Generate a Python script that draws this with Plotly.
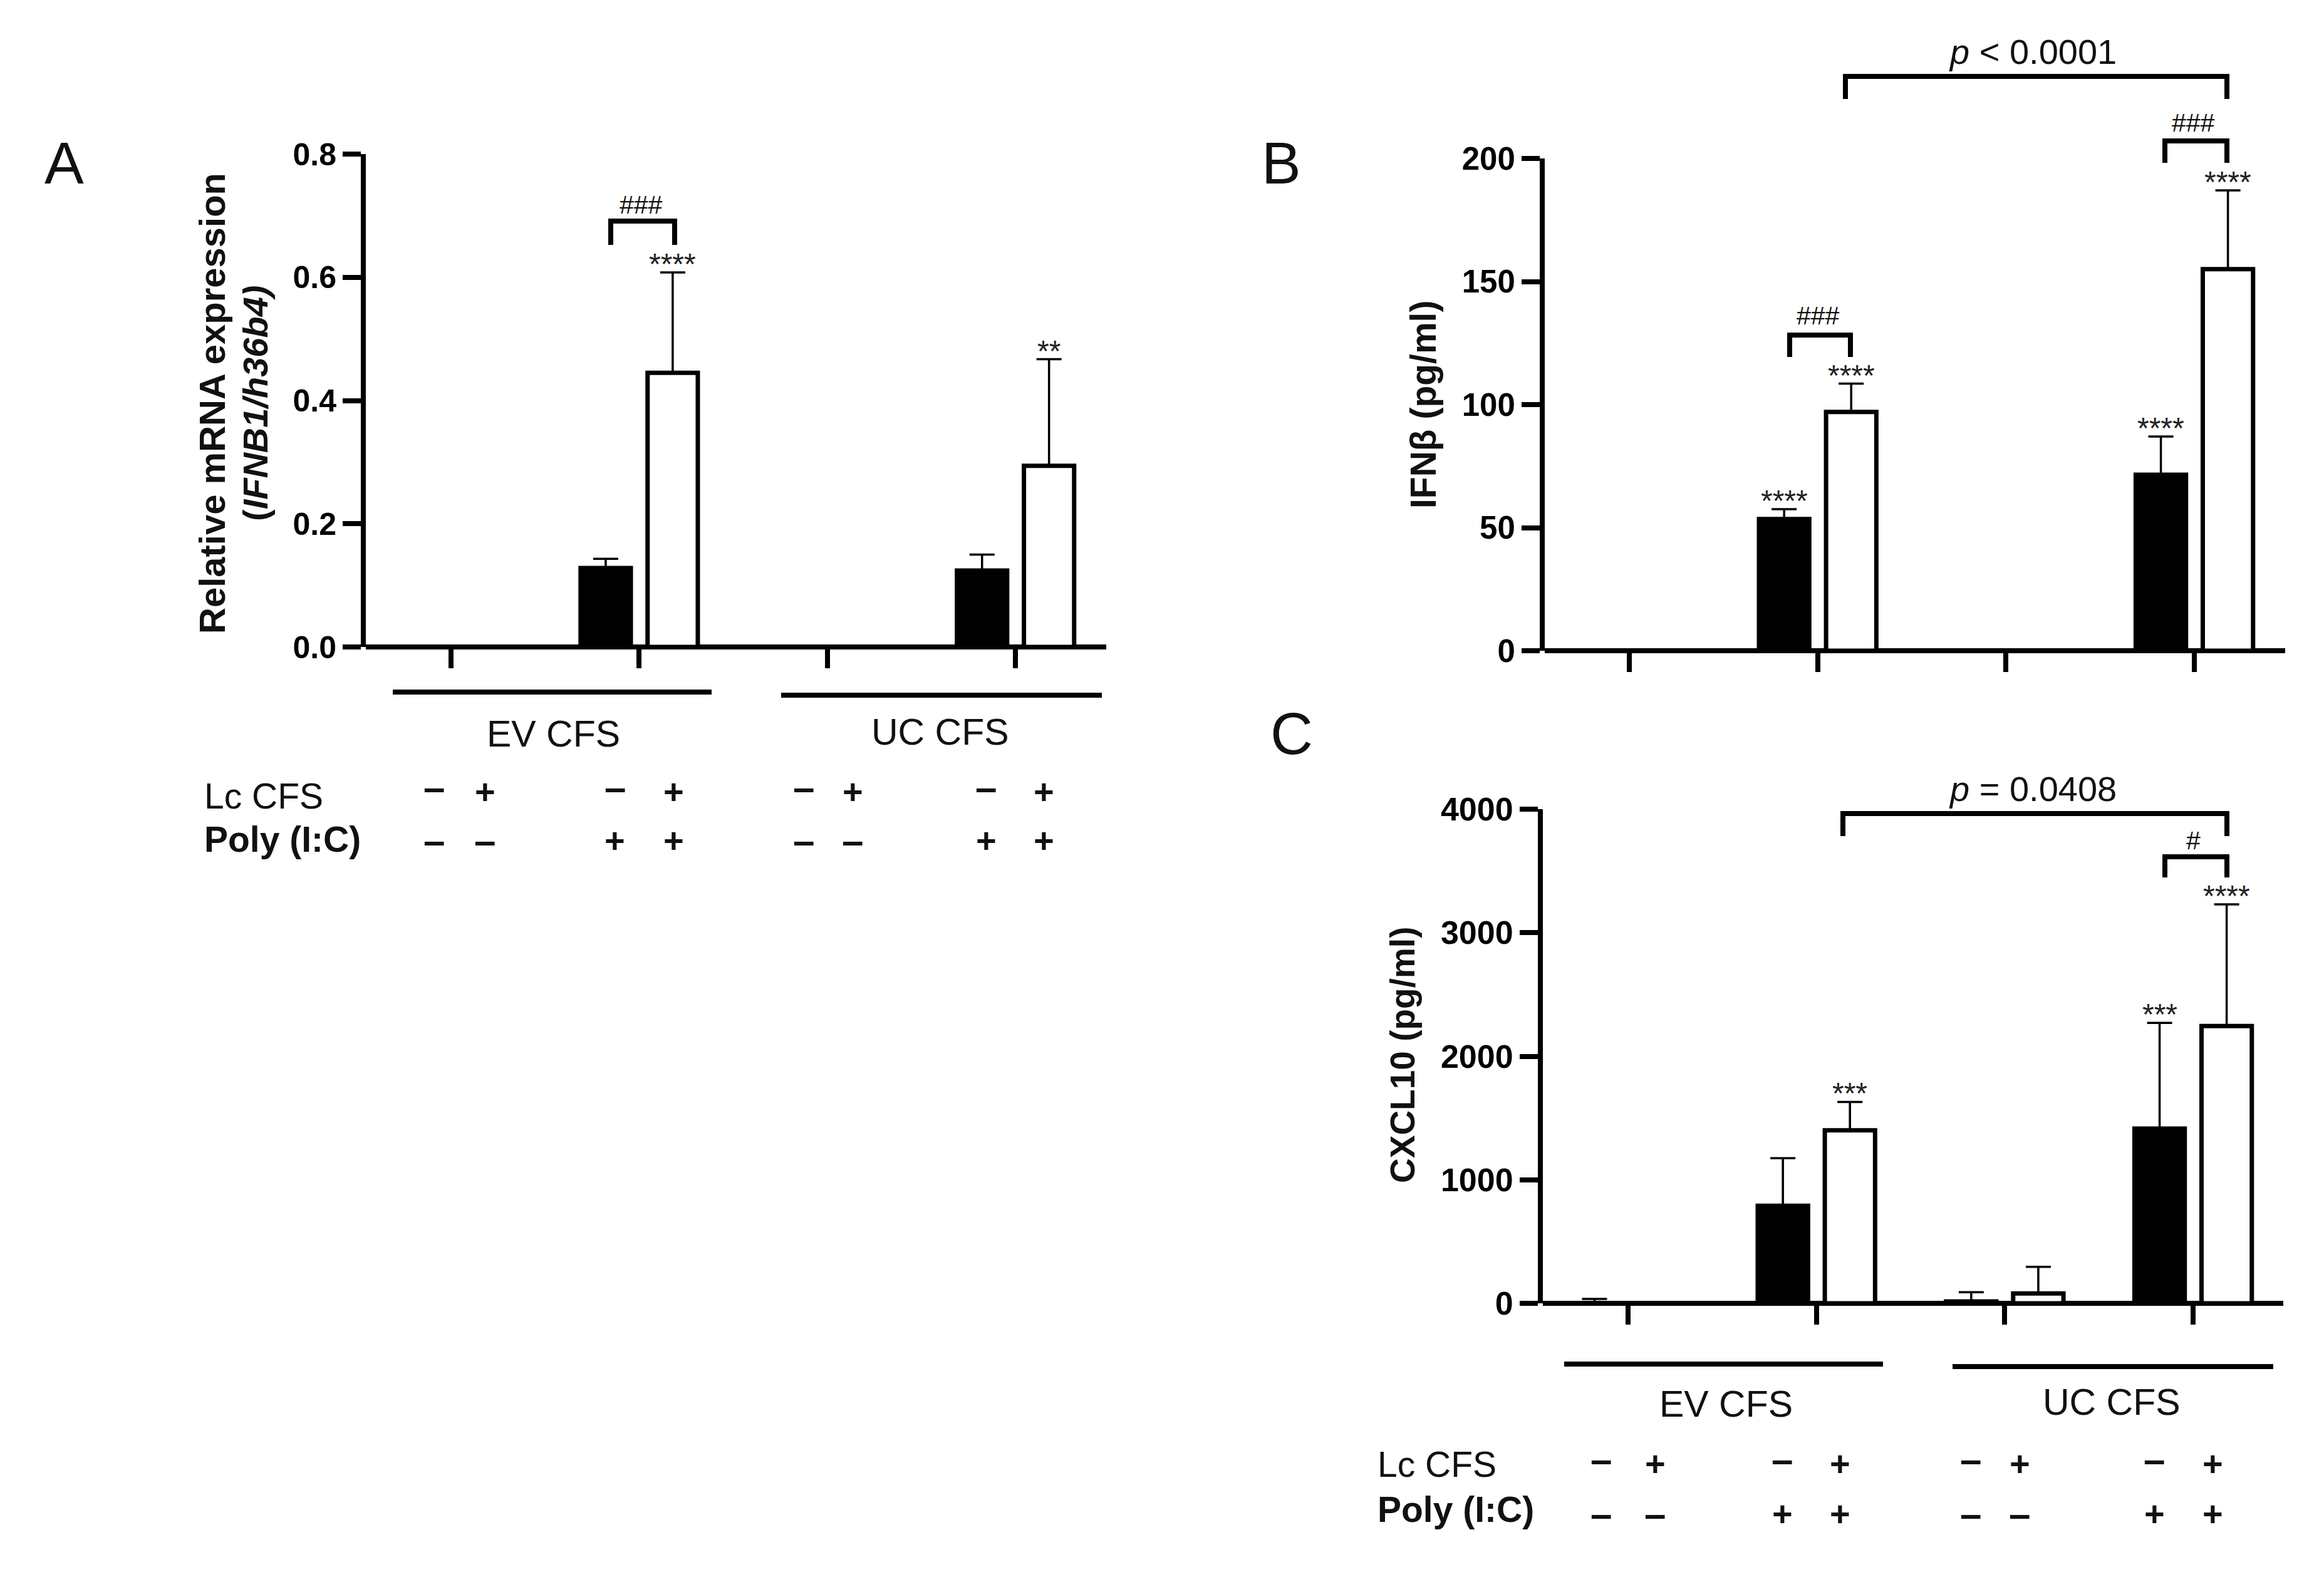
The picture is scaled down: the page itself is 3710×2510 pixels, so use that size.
import plotly.graph_objects as go

W, H = 3710, 2510
FONT = "Liberation Sans"

groups = [0, 1, 2, 3]
lc_row = ["–", "+", "–", "+", "–", "+", "–", "+"]
poly_row = ["–", "–", "+", "+", "–", "–", "+", "+"]

ifnb1_black = [None, 0.128, None, 0.124]
ifnb1_black_err = [0, 0.015, 0, 0.026]
ifnb1_white = [None, 0.445, None, 0.294]
ifnb1_white_err = [0, 0.163, 0, 0.173]
ifnb1_black_stars = ["", "", "", ""]
ifnb1_white_stars = ["", "****", "", "**"]
ifnb1_ticks = [0, 0.2, 0.4, 0.6, 0.8]

ifnb_black = [None, 53.5, None, 71.5]
ifnb_black_err = [0, 4, 0, 15.5]
ifnb_white = [None, 97, None, 155]
ifnb_white_err = [0, 11.5, 0, 32]
ifnb_black_stars = ["", "****", "", "****"]
ifnb_white_stars = ["", "****", "", "****"]
ifnb_ticks = [0, 50, 100, 150, 200]

cxcl10_black = [2, 790, 15, 1415]
cxcl10_black_err = [33, 385, 75, 855]
cxcl10_white = [None, 1400, 80, 2245]
cxcl10_white_err = [0, 230, 215, 985]
cxcl10_black_stars = ["", "", "", "***"]
cxcl10_white_stars = ["", "***", "", "****"]
cxcl10_ticks = [0, 1000, 2000, 3000, 4000]

OFFSET = 0.178


def px(x, y):
    return x / W, 1 - y / H


fig = go.Figure()
shapes = []
notes = []


def text(x, y, label, size, bold=False, anchor="center", angle=0):
    xp, yp = px(x, y)
    notes.append(dict(x=xp, y=yp, xref="paper", yref="paper", text=label, showarrow=False,
                      xanchor=anchor, yanchor="middle", textangle=angle,
                      font=dict(family=FONT, size=size, color="#111111",
                                weight="bold" if bold else "normal")))


def line(x0, y0, x1, y1, width=8):
    a, b = px(x0, y0)
    c, d = px(x1, y1)
    shapes.append(dict(type="line", xref="paper", yref="paper", x0=a, y0=b, x1=c, y1=d,
                       line=dict(color="black", width=width)))


def bracket(x0, x1, top, bottom):
    line(x0, bottom, x0, top)
    line(x0 - 4, top, x1 + 4, top)
    line(x1, top, x1, bottom)


def panel(n, left, right, top, bottom, tick0, period, ymax, ticks, size, fmt,
          black, black_err, white, white_err, black_stars, white_stars):
    suffix = "" if n == 1 else str(n)
    xr = "x" + suffix
    yr = "y" + suffix
    for vals, errs, colour in ((black, black_err, "black"), (white, white_err, "white")):
        fig.add_trace(go.Bar(x=groups, y=vals, xaxis=xr, yaxis=yr, showlegend=False,
                             marker=dict(color=colour, line=dict(color="black", width=7)),
                             error_y=dict(type="data", symmetric=False, array=errs,
                                          arrayminus=[0, 0, 0, 0], color="black",
                                          thickness=3.5, width=20)))
    # the y line sits outside the domain in plotly, so move the domain by half its width;
    # the baseline is the y zeroline, which is centred on 0 like in the original
    inner = left + 4
    axis = dict(showgrid=False, ticks="outside", tickcolor="black", tickwidth=8, automargin=False)
    fig.update_layout({
        "xaxis" + suffix: dict(axis, domain=[inner / W, right / W], anchor=yr,
                               range=[(inner - tick0) / period, (right - tick0) / period],
                               tickvals=groups, showticklabels=False, showline=False,
                               zeroline=False, ticklen=33),
        "yaxis" + suffix: dict(axis, domain=[1 - bottom / H, 1 - top / H], anchor=xr,
                               range=[0, ymax], tickvals=ticks, tickformat=fmt, ticklen=29,
                               showline=True, linecolor="black", linewidth=8,
                               zeroline=True, zerolinecolor="black", zerolinewidth=8,
                               tickfont=dict(family=FONT, size=size, color="black", weight="bold")),
    })
    for stars, means, errs, sign in ((black_stars, black, black_err, -1), (white_stars, white, white_err, 1)):
        for g, s, m, e in zip(groups, stars, means, errs):
            if s:
                notes.append(dict(x=g + sign * OFFSET, y=m + e, xref=xr, yref=yr, text=s, showarrow=False,
                                  yanchor="bottom", yshift=-15,
                                  font=dict(family=FONT, size=48, color="#222222")))


panel(1, 580, 1766, 246, 1033, 720, 300.4, 0.8, ifnb1_ticks, 50, ".1f",
      ifnb1_black, ifnb1_black_err, ifnb1_white, ifnb1_white_err, ifnb1_black_stars, ifnb1_white_stars)
panel(2, 2462, 3648, 253, 1039, 2601, 300.7, 200, ifnb_ticks, 51, "d",
      ifnb_black, ifnb_black_err, ifnb_white, ifnb_white_err, ifnb_black_stars, ifnb_white_stars)
panel(3, 2459, 3645, 1292, 2081, 2599, 300.7, 4000, cxcl10_ticks, 52, "d",
      cxcl10_black, cxcl10_black_err, cxcl10_white, cxcl10_white_err, cxcl10_black_stars, cxcl10_white_stars)

# panel letters
text(69, 260, "A", 94, anchor="left")
text(2012, 260, "B", 94, anchor="left")
text(2026, 1172, "C", 94, anchor="left")

# y titles
text(338, 644, "Relative mRNA expression", 58, bold=True, angle=-90)
text(407, 644, "(<i>IFNB1/h36b4)</i>", 56, bold=True, angle=-90)
text(2272, 646, "IFNβ (pg/ml)", 57, bold=True, angle=-90)
text(2239, 1685, "CXCL10 (pg/ml)", 55, bold=True, angle=-90)

# group labels under A and C
line(627, 1105, 1136, 1105)
line(1247, 1110, 1759, 1110)
text(883, 1172, "EV CFS", 59)
text(1501, 1169, "UC CFS", 59)
text(324, 1271, "Lc CFS", 57, anchor="left")
text(324, 1340, "Poly (I:C)", 57, bold=True, anchor="left")

line(2497, 2178, 3006, 2178)
line(3117, 2182, 3629, 2182)
text(2755, 2242, "EV CFS", 59)
text(3371, 2239, "UC CFS", 59)
text(2197, 2338, "Lc CFS", 57, anchor="left")
text(2197, 2410, "Poly (I:C)", 57, bold=True, anchor="left")

for xs, row1, row2 in (([693, 774, 982, 1075, 1283, 1361, 1574, 1666], 1263, 1341),
                       ([2556, 2642, 2845, 2937, 3146, 3224, 3439, 3532], 2336, 2416)):
    for x, a, b in zip(xs, lc_row, poly_row):
        # dashes in the Lc row sit a little higher than the plus signs
        text(x, row1 - 7 if a == "–" else row1, a, 62 if a == "–" else 56, bold=True)
        text(x, row2, b, 62 if b == "–" else 56, bold=True)

# comparison brackets
bracket(975, 1077, 353, 391)
text(1023, 327, "###", 41)
bracket(2857, 2954, 535, 570)
text(2902, 504, "###", 41)
bracket(3456, 3555, 225, 260)
text(3501, 196, "###", 41)
bracket(2946, 3555, 122, 158)
text(3245, 83, "<i>p</i> &lt; 0.0001", 56)
bracket(2942, 3555, 1299, 1335)
text(3245, 1259, "<i>p</i> = 0.0408", 56)
bracket(3456, 3555, 1368, 1401)
text(3501, 1342, "#", 41)

fig.update_layout(width=W, height=H, margin=dict(l=0, r=0, t=0, b=0, autoexpand=False),
                  plot_bgcolor="white", paper_bgcolor="white", barmode="group",
                  bargap=0.288, bargroupgap=0.25, shapes=shapes, annotations=notes)

fig.write_html("out.html", post_script="document.body.style.margin='0';",
               config=dict(displayModeBar=False))
